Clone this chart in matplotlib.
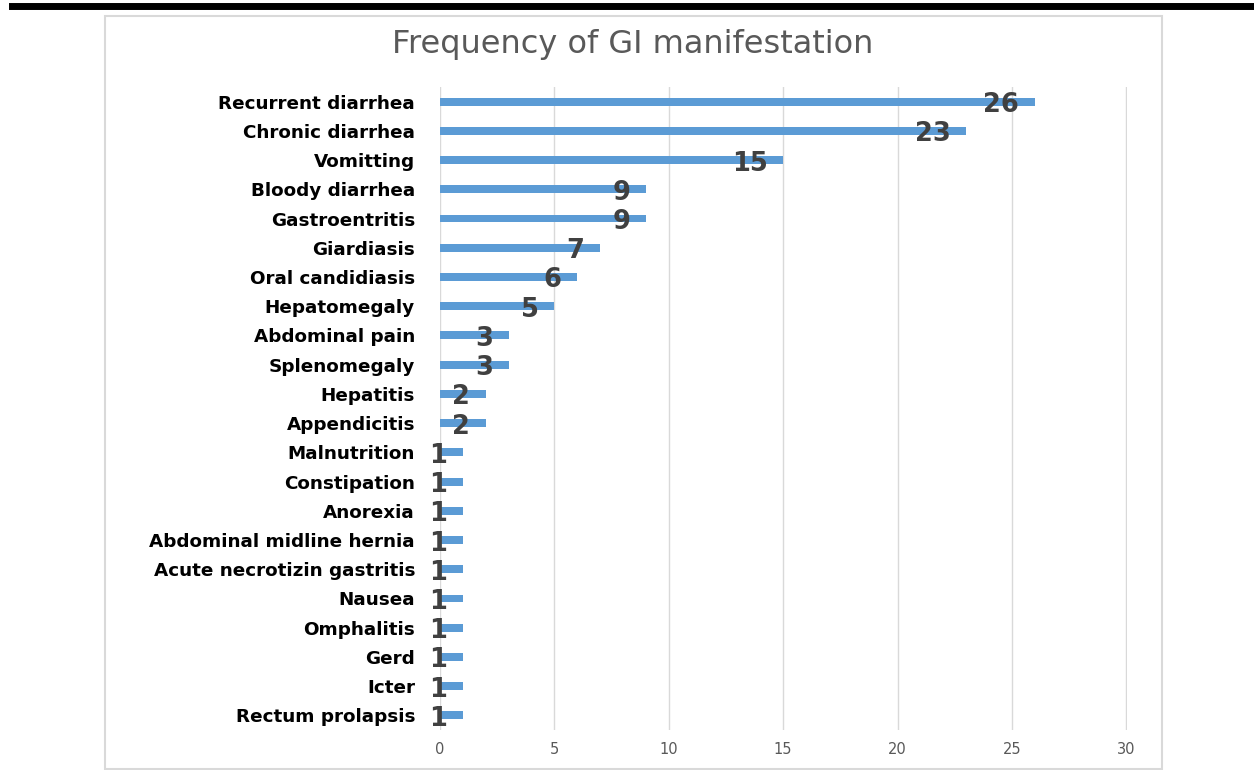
import matplotlib.pyplot as plt
from matplotlib.patches import Rectangle
from matplotlib.lines import Line2D

categories = [
    "Recurrent diarrhea", "Chronic diarrhea", "Vomitting", "Bloody diarrhea",
    "Gastroentritis", "Giardiasis", "Oral candidiasis", "Hepatomegaly",
    "Abdominal pain", "Splenomegaly", "Hepatitis", "Appendicitis",
    "Malnutrition", "Constipation", "Anorexia", "Abdominal midline hernia",
    "Acute necrotizin gastritis", "Nausea", "Omphalitis", "Gerd", "Icter",
    "Rectum prolapsis",
]
counts = [26, 23, 15, 9, 9, 7, 6, 5, 3, 3, 2, 2, 1, 1, 1, 1, 1, 1, 1, 1, 1, 1]
xticks = [0, 5, 10, 15, 20, 25, 30]

W, H = 1254, 770
fig = plt.figure(figsize=(W / 100, H / 100), dpi=100)

# chart frame and the heavy rule at the top
fig.add_artist(Rectangle((105 / W, 1 - 769 / H), 1057 / W, 753 / H,
                         transform=fig.transFigure, fill=False,
                         edgecolor="#D9D9D9", linewidth=1.5))
fig.add_artist(Line2D([12 / W, 1], [1 - 6 / H, 1 - 6 / H],
                      transform=fig.transFigure, color="black", linewidth=5))

ax = fig.add_axes([440 / W, 1 - 730 / H, 687 / W, 643 / H])
y = range(len(categories))
ax.barh(y, counts, height=0.27, color="#5B9BD5", zorder=3)

for yi, c in zip(y, counts):
    ax.text(c - 0.68, yi + 0.12, str(c), ha="right", va="center",
            fontsize=18.5, fontweight="bold", color="#404040", zorder=4)

ax.set_xlim(0, 30.03)
ax.set_ylim(len(categories) - 0.5, -0.5)
ax.set_xticks(xticks)
ax.set_xticklabels([str(t) for t in xticks], color="#595959", fontsize=10.5)
ax.set_yticks(list(y))
ax.set_yticklabels(categories, fontsize=13.2, fontweight="bold", color="black")
ax.tick_params(axis="both", length=0)
ax.tick_params(axis="y", pad=18)
ax.tick_params(axis="x", pad=9)
ax.grid(axis="x", color="#D9D9D9", linewidth=1, zorder=0)
for s in ax.spines.values():
    s.set_visible(False)

fig.text(633 / W, 1 - 45 / H, "Frequency of GI manifestation", ha="center",
         va="center", fontsize=23, color="#595959")

fig.savefig("out.png", dpi=100)
